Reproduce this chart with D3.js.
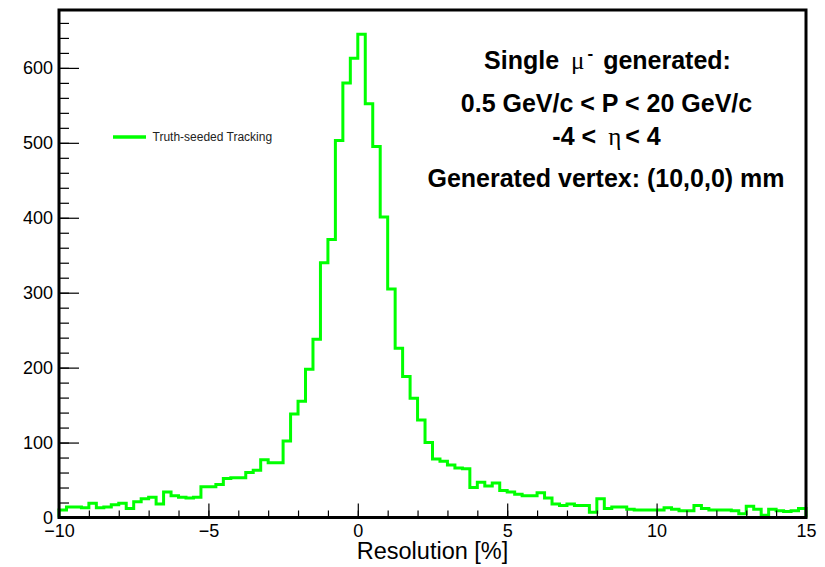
<!DOCTYPE html>
<html>
<head>
<meta charset="utf-8">
<script src="https://cdn.jsdelivr.net/npm/d3@7"></script>
<style>
  body { margin: 0; background: #fff; }
  svg text { font-family: "Liberation Sans", Arial, sans-serif; }
</style>
</head>
<body>
<svg id="chart"></svg>
<script>
// TH1-like histogram: 100 bins between -10 and 15
const binRange = [-10, 15];
const binWidth = 0.25;
const counts = [
  10, 14, 14, 13, 19, 13, 14, 17, 19, 12,
  21, 25, 27, 18, 34, 29, 27, 26, 27, 41,
  41, 44, 52, 53, 53, 60, 63, 77, 73, 73,
  102, 138, 155, 198, 238, 340, 371, 503, 580, 613,
  645, 552, 495, 401, 305, 226, 188, 159, 130, 100,
  78, 75, 70, 66, 65, 40, 47, 42, 46, 36,
  34, 31, 29, 29, 33, 26, 18, 16, 18, 16,
  16, 7, 25, 12, 14, 14, 11, 10, 10, 10,
  10, 13, 11, 9, 9, 16, 12, 10, 10, 10,
  9, 5, 15, 11, 3, 11, 9, 8, 9, 12
];
const xTicks = [-10, -5, 0, 5, 10, 15];
const yTicks = [0, 100, 200, 300, 400, 500, 600];
const legendLabel = "Truth-seeded Tracking";
const xTitle = "Resolution [%]";

class Histogram {
  constructor(_config, _counts) {
    this.config = {
      parentElement: _config.parentElement,
      containerWidth: _config.containerWidth || 825,
      containerHeight: _config.containerHeight || 567,
      margin: _config.margin || { top: 10, right: 19, bottom: 49.5, left: 59 },
    };
    this.counts = _counts;
    this.initVis();
  }

  initVis() {
    let vis = this;

    vis.width = vis.config.containerWidth - vis.config.margin.left - vis.config.margin.right;
    vis.height = vis.config.containerHeight - vis.config.margin.top - vis.config.margin.bottom;

    vis.xScale = d3.scaleLinear().domain(binRange).range([0, vis.width]);
    vis.yScale = d3.scaleLinear().range([vis.height, 0]);

    // ROOT style: ticks pointing inside the frame
    vis.xAxis = d3.axisBottom(vis.xScale).tickValues(xTicks).tickSize(-14).tickPadding(7);
    vis.xMinor = d3.axisBottom(vis.xScale)
      .tickValues(d3.range(binRange[0], binRange[1] + 1, 1))
      .tickSize(-7).tickFormat("");
    vis.yAxis = d3.axisLeft(vis.yScale).tickValues(yTicks).tickSize(-20).tickPadding(6);

    vis.svg = d3.select(vis.config.parentElement)
      .attr("width", vis.config.containerWidth)
      .attr("height", vis.config.containerHeight);

    vis.chart = vis.svg.append("g")
      .attr("transform", `translate(${vis.config.margin.left},${vis.config.margin.top})`);

    vis.histPath = vis.chart.append("path")
      .attr("fill", "none")
      .attr("stroke", "#00ff00")
      .attr("stroke-width", 3)
      .attr("stroke-linejoin", "miter");

    vis.xMinorG = vis.chart.append("g").attr("transform", `translate(0,${vis.height})`);
    vis.xAxisG = vis.chart.append("g").attr("transform", `translate(0,${vis.height})`);
    vis.yMinorG = vis.chart.append("g");
    vis.yAxisG = vis.chart.append("g");

    // frame
    vis.chart.append("rect")
      .attr("width", vis.width)
      .attr("height", vis.height)
      .attr("fill", "none")
      .attr("stroke", "#000")
      .attr("stroke-width", 3);

    // axis title
    vis.svg.append("text")
      .attr("x", vis.config.margin.left + vis.width / 2)
      .attr("y", 559)
      .attr("text-anchor", "middle")
      .attr("font-size", 23.5)
      .attr("fill", "#000")
      .text(xTitle);

    // legend
    vis.svg.append("line")
      .attr("x1", 113).attr("x2", 146)
      .attr("y1", 137).attr("y2", 137)
      .attr("stroke", "#00ff00")
      .attr("stroke-width", 3.5);
    vis.svg.append("text")
      .attr("x", 152.5)
      .attr("y", 141)
      .attr("font-size", 12)
      .attr("fill", "#222")
      .text(legendLabel);

    // info text block
    const info = vis.svg.append("g")
      .attr("font-weight", "bold")
      .attr("font-size", 25)
      .attr("fill", "#000");

    const l1 = info.append("text").attr("x", 607.5).attr("y", 69).attr("text-anchor", "middle");
    l1.append("tspan").text("Single");
    l1.append("tspan").attr("dx", 12)
      .attr("font-family", "'Liberation Serif', serif")
      .attr("font-weight", "normal").text("μ");
    l1.append("tspan").attr("dx", 3).attr("dy", -10).attr("font-size", 17).text("-");
    l1.append("tspan").attr("dx", 10).attr("dy", 10).text("generated:");

    info.append("text").attr("x", 606.5).attr("y", 111.5)
      .attr("text-anchor", "middle")
      .text("0.5 GeV/c < P < 20 GeV/c");

    const l3 = info.append("text").attr("x", 606.5).attr("y", 145).attr("text-anchor", "middle");
    l3.append("tspan").text("-4 <");
    l3.append("tspan").attr("dx", 12)
      .attr("font-family", "'Liberation Serif', serif")
      .attr("font-weight", "normal").text("η");
    l3.append("tspan").attr("dx", 4).text("< 4");

    info.append("text").attr("x", 606).attr("y", 186.5)
      .attr("text-anchor", "middle")
      .text("Generated vertex: (10,0,0) mm");
  }

  updateVis() {
    let vis = this;

    vis.edges = d3.range(0, vis.counts.length + 1).map((i) => binRange[0] + i * binWidth);
    vis.yScale.domain([0, d3.max(vis.counts) * 1.05]);

    vis.yMinor = d3.axisLeft(vis.yScale)
      .tickValues(d3.range(0, vis.yScale.domain()[1], 20))
      .tickSize(-10).tickFormat("");

    vis.renderVis();
  }

  renderVis() {
    let vis = this;

    // step outline, starting and ending on the baseline like ROOT's HIST option
    const pts = [[vis.edges[0], 0]];
    vis.counts.forEach((c, i) => {
      pts.push([vis.edges[i], c]);
      pts.push([vis.edges[i + 1], c]);
    });
    pts.push([vis.edges[vis.edges.length - 1], 0]);

    const line = d3.line()
      .x((d) => vis.xScale(d[0]))
      .y((d) => vis.yScale(d[1]));

    vis.histPath.attr("d", line(pts));

    vis.xMinorG.call(vis.xMinor);
    vis.xAxisG.call(vis.xAxis);
    vis.yMinorG.call(vis.yMinor);
    vis.yAxisG.call(vis.yAxis);

    vis.chart.selectAll(".domain").remove();
    vis.chart.selectAll(".tick line").attr("stroke", "#000").attr("stroke-width", 1.2);
    vis.chart.selectAll(".tick text")
      .attr("font-size", 18)
      .attr("fill", "#000")
      .attr("font-family", "'Liberation Sans', Arial, sans-serif");
  }
}

const hist = new Histogram({ parentElement: "#chart" }, counts);
hist.updateVis();
</script>
</body>
</html>
